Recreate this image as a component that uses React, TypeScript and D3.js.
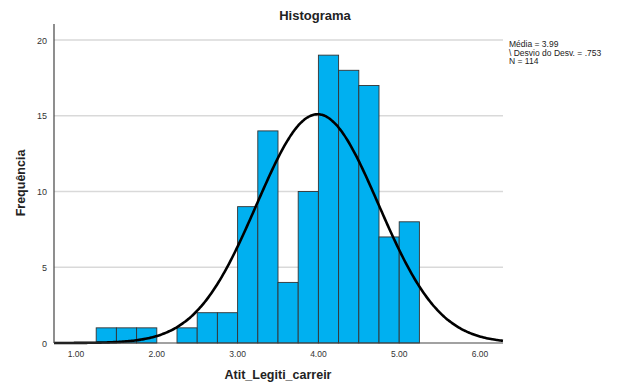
import React from "react";
import * as d3 from "d3";

const binStarts = [1.25, 1.5, 1.75, 2.0, 2.25, 2.5, 2.75, 3.0, 3.25, 3.5, 3.75, 4.0, 4.25, 4.5, 4.75, 5.0];
const binCounts = [1, 1, 1, 0, 1, 2, 2, 9, 14, 4, 10, 19, 18, 17, 7, 8];
const binWidth = 0.25;
const xTicks = [1, 2, 3, 4, 5, 6];
const yTicks = [0, 5, 10, 15, 20];
const mean = 3.99;
const sd = 0.753;
const n = 114;
const statLines = ["Média = 3.99", "\\ Desvio do Desv. = .753", "N = 114"];

export default function App() {
  const W = 630, H = 388;
  const left = 54, right = 503, bottom = 343, top = 24;
  const x = d3.scaleLinear().domain([1, 6]).range([76, 480]);
  const y = d3.scaleLinear().domain([0, 20]).range([bottom, 40]);
  const xMin = x.invert(left), xMax = x.invert(right);
  const pdf = (v: number) => (n * binWidth) / (sd * Math.sqrt(2 * Math.PI)) * Math.exp(-0.5 * ((v - mean) / sd) ** 2);
  const pts = d3.range(0, 301).map(i => xMin + (xMax - xMin) * i / 300);
  const line = d3.line<number>().x(v => x(v)).y(v => y(pdf(v))).curve(d3.curveBasis);
  const font = "'Liberation Sans', Arial, sans-serif";
  return (
    <svg width={W} height={H} style={{ position: "absolute", left: 0, top: 0 }} fontFamily={font}>
      <rect width={W} height={H} fill="#fff" />
      <text x={315} y={20} textAnchor="middle" fontSize={13} fontWeight="bold" fill="#222">Histograma</text>
      {yTicks.filter(t => t > 0).map(t => (
        <line key={t} x1={left} x2={right} y1={y(t)} y2={y(t)} stroke="#d9d9d9" strokeWidth={1.5} />
      ))}
      {yTicks.map(t => (
        <text key={t} x={47} y={y(t) + 3.5} textAnchor="end" fontSize={9} fill="#333">{t}</text>
      ))}
      {xTicks.map(t => (
        <text key={t} x={x(t)} y={357} textAnchor="middle" fontSize={8.5} fill="#333">{t.toFixed(2)}</text>
      ))}
      {binStarts.map((s, i) => binCounts[i] > 0 ? (
        <rect key={s} x={x(s)} y={y(binCounts[i])} width={x(s + binWidth) - x(s)} height={bottom - y(binCounts[i])}
          fill="#00b0f0" stroke="#333" strokeWidth={0.9} />
      ) : null)}
      <path d={line(pts) || ""} fill="none" stroke="#000" strokeWidth={2.6} />
      <line x1={left} x2={left} y1={top} y2={bottom} stroke="#444" strokeWidth={1.2} />
      <line x1={left} x2={right} y1={bottom} y2={bottom} stroke="#444" strokeWidth={1.2} />
      <text x={278} y={379} textAnchor="middle" fontSize={12.5} fontWeight="bold" fill="#222">Atit_Legiti_carreir</text>
      <text transform="translate(25,183) rotate(-90)" textAnchor="middle" fontSize={12.5} fontWeight="bold" fill="#222">Frequência</text>
      {statLines.map((s, i) => (
        <text key={i} x={509} y={47 + i * 8.5} fontSize={8.5} fill="#222">{s}</text>
      ))}
    </svg>
  );
}
